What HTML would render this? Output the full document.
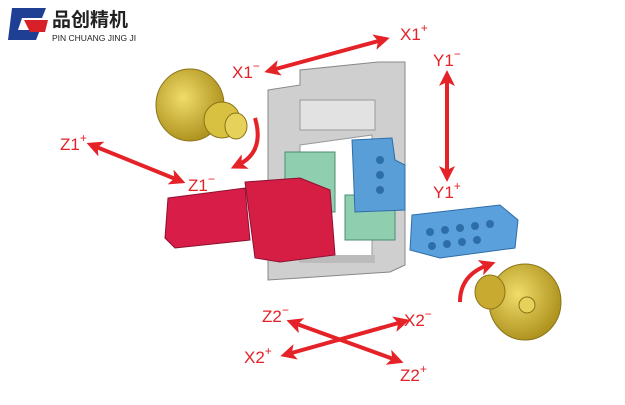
<!DOCTYPE html>
<html><head><style>
body{margin:0;background:#fff;width:625px;height:400px;overflow:hidden;font-family:"Liberation Sans","Noto Sans CJK SC",sans-serif}
svg text{font-family:"Liberation Sans","Noto Sans CJK SC",sans-serif}
</style></head><body>
<svg width="625" height="400" viewBox="0 0 625 400" xmlns="http://www.w3.org/2000/svg">
<defs>
<marker id="ah" markerWidth="4" markerHeight="4" refX="2" refY="2" orient="auto-start-reverse" markerUnits="strokeWidth">
<path d="M0,0 L4,2 L0,4 L1,2 Z" fill="#e42228"/></marker>
<radialGradient id="gold" cx="40%" cy="40%" r="60%"><stop offset="0" stop-color="#f0dc6a"/><stop offset="1" stop-color="#b09420"/></radialGradient>
</defs>
<!-- logo -->
<path d="M12,8 L46,8 L42,18 L22,18 L18,30 L40,30 L36,40 L8,40 Z" fill="#1f3f94"/>
<path d="M24,20 L48,20 L45,32 L30,32 Z" fill="#d72027"/>
<text x="52" y="26" font-size="19" font-weight="bold" fill="#222">品创精机</text>
<text x="52" y="41" font-size="8.5" fill="#222">PIN CHUANG JING JI</text>
<!-- frame -->
<polygon points="268,90 300,85 300,70 378,62 405,62 405,265 390,272 300,278 268,280" fill="#cfcfcf" stroke="#888" stroke-width="1"/>
<polygon points="300,145 372,135 372,258 300,262" fill="#fff" stroke="#999"/>
<rect x="300" y="100" width="75" height="30" fill="#e2e2e2" stroke="#999"/>
<rect x="300" y="255" width="75" height="8" fill="#bbb"/>
<!-- green -->
<rect x="285" y="152" width="50" height="60" fill="#8fcfb0" stroke="#4a8f70"/>
<rect x="345" y="195" width="50" height="45" fill="#8fcfb0" stroke="#4a8f70"/>
<!-- blue -->
<polygon points="352,140 392,138 395,160 405,165 405,210 355,212" fill="#5a9ed8" stroke="#2d6ea8"/>
<polygon points="412,215 500,205 518,220 515,248 440,258 410,250" fill="#5aa0dc" stroke="#2d6ea8"/>
<g fill="#2d6ea8"><circle cx="430" cy="232" r="4"/><circle cx="445" cy="230" r="4"/><circle cx="460" cy="228" r="4"/><circle cx="475" cy="226" r="4"/><circle cx="490" cy="224" r="4"/>
<circle cx="432" cy="246" r="4"/><circle cx="447" cy="244" r="4"/><circle cx="462" cy="242" r="4"/><circle cx="477" cy="240" r="4"/><circle cx="380" cy="160" r="4"/><circle cx="380" cy="175" r="4"/><circle cx="380" cy="190" r="4"/></g>
<!-- red motor -->
<polygon points="168,198 245,188 250,240 175,248 165,238" fill="#d81e48" stroke="#8e1030"/>
<polygon points="245,182 300,178 330,190 335,255 280,262 255,258" fill="#d61e45" stroke="#8e1030"/>
<!-- gold left -->
<ellipse cx="190" cy="105" rx="34" ry="36" fill="url(#gold)" stroke="#8a7418"/>
<ellipse cx="222" cy="120" rx="18" ry="18" fill="#d8c040" stroke="#8a7418"/>
<ellipse cx="236" cy="126" rx="11" ry="13" fill="#e6d25a" stroke="#8a7418"/>
<!-- gold right -->
<ellipse cx="525" cy="302" rx="36" ry="38" fill="url(#gold)" stroke="#8a7418"/>
<ellipse cx="490" cy="292" rx="15" ry="17" fill="#c8aa30" stroke="#8a7418"/>
<circle cx="527" cy="305" r="8" fill="#e6d25a" stroke="#8a7418"/>
<!-- arrows -->
<g stroke="#e42228" stroke-width="4" fill="none">
<line x1="272" y1="70" x2="382" y2="40" marker-start="url(#ah)" marker-end="url(#ah)"/>
<line x1="447" y1="78" x2="447" y2="174" marker-start="url(#ah)" marker-end="url(#ah)"/>
<line x1="94" y1="146" x2="178" y2="180" marker-start="url(#ah)" marker-end="url(#ah)"/>
<line x1="294" y1="323" x2="396" y2="360" marker-start="url(#ah)" marker-end="url(#ah)"/>
<line x1="288" y1="354" x2="402" y2="322" marker-start="url(#ah)" marker-end="url(#ah)"/>
<path d="M255,118 Q265,152 238,165" marker-end="url(#ah)"/>
<path d="M460,302 Q460,275 488,265" marker-end="url(#ah)"/>
</g>
<g fill="#e42228" font-size="17">
<text x="232" y="78">X1<tspan font-size="12" dy="-8">−</tspan></text>
<text x="400" y="40">X1<tspan font-size="12" dy="-8">+</tspan></text>
<text x="433" y="66">Y1<tspan font-size="12" dy="-8">−</tspan></text>
<text x="433" y="198">Y1<tspan font-size="12" dy="-8">+</tspan></text>
<text x="60" y="150">Z1<tspan font-size="12" dy="-8">+</tspan></text>
<text x="188" y="191">Z1<tspan font-size="12" dy="-8">−</tspan></text>
<text x="262" y="322">Z2<tspan font-size="12" dy="-8">−</tspan></text>
<text x="404" y="326">X2<tspan font-size="12" dy="-8">−</tspan></text>
<text x="244" y="363">X2<tspan font-size="12" dy="-8">+</tspan></text>
<text x="400" y="381">Z2<tspan font-size="12" dy="-8">+</tspan></text>
</g>
</svg>
</body></html>
